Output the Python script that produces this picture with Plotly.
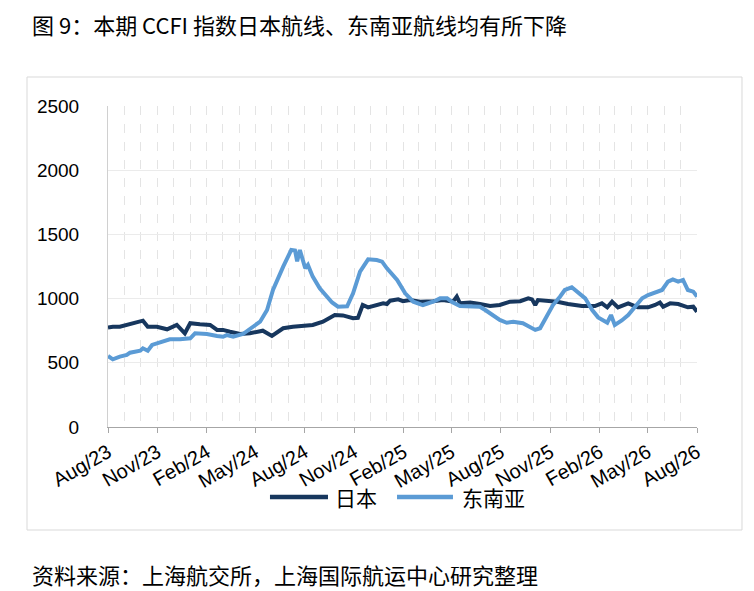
import plotly.graph_objects as go

# CCFI 日本航线
jp_dates = [
    "2023-08-01", "2023-08-10", "2023-08-23", "2023-09-05", "2023-09-17", "2023-10-05",
    "2023-10-14", "2023-10-31", "2023-11-19", "2023-12-07", "2023-12-22", "2024-01-01",
    "2024-01-19", "2024-02-07", "2024-02-20", "2024-03-02", "2024-03-15", "2024-04-03",
    "2024-04-21", "2024-05-06", "2024-05-15", "2024-06-01", "2024-06-22", "2024-07-10",
    "2024-07-29", "2024-08-16", "2024-09-04", "2024-09-26", "2024-10-11", "2024-10-30",
    "2024-11-08", "2024-11-17", "2024-11-27", "2024-12-13", "2024-12-25", "2025-01-01",
    "2025-01-07", "2025-01-22", "2025-01-31", "2025-02-13", "2025-03-04", "2025-03-28",
    "2025-04-15", "2025-05-04", "2025-05-11", "2025-05-17", "2025-06-05", "2025-06-23",
    "2025-07-12", "2025-07-30", "2025-08-18", "2025-09-06", "2025-09-21", "2025-09-28",
    "2025-10-04", "2025-10-09", "2025-10-26", "2025-11-14", "2025-12-04", "2025-12-30",
    "2026-01-23", "2026-02-05", "2026-02-15", "2026-02-24", "2026-03-07", "2026-03-26",
    "2026-04-13", "2026-05-02", "2026-05-15", "2026-05-24", "2026-05-30", "2026-06-12",
    "2026-06-27", "2026-07-15", "2026-07-25", "2026-08-01",
]
jp_values = [
    775, 781, 781, 795, 808, 828,
    781, 781, 761, 795, 730, 808,
    800, 795, 756, 756, 742, 724,
    730, 742, 750, 709, 769, 781,
    786, 795, 820, 872, 869, 847,
    850, 950, 932, 950, 963, 958,
    984, 994, 980, 989, 976, 980,
    989, 976, 1015, 963, 969, 958,
    942, 950, 976, 980, 1002, 994,
    950, 989, 984, 976, 958, 942,
    942, 963, 932, 976, 932, 963,
    932, 932, 950, 969, 937, 963,
    958, 932, 937, 898,
]

# CCFI 东南亚航线
sea_dates = [
    "2023-08-01", "2023-08-10", "2023-08-23", "2023-09-05", "2023-09-11", "2023-09-30",
    "2023-10-05", "2023-10-14", "2023-10-22", "2023-11-02", "2023-11-11", "2023-11-24",
    "2023-12-13", "2024-01-01", "2024-01-10", "2024-02-01", "2024-02-20", "2024-03-02",
    "2024-03-09", "2024-03-21", "2024-04-08", "2024-04-21", "2024-05-06", "2024-05-10",
    "2024-05-23", "2024-06-03", "2024-06-22", "2024-07-07", "2024-07-14", "2024-07-18",
    "2024-07-23", "2024-08-02", "2024-08-07", "2024-08-16", "2024-08-29", "2024-09-10",
    "2024-09-21", "2024-10-02", "2024-10-19", "2024-10-30", "2024-11-12", "2024-11-27",
    "2024-12-13", "2024-12-23", "2025-01-01", "2025-01-20", "2025-02-04", "2025-02-19",
    "2025-03-09", "2025-03-28", "2025-04-10", "2025-04-23", "2025-05-04", "2025-05-17",
    "2025-05-30", "2025-06-23", "2025-07-03", "2025-07-17", "2025-07-30", "2025-08-12",
    "2025-08-24", "2025-09-11", "2025-09-24", "2025-10-04", "2025-10-13", "2025-10-26",
    "2025-11-06", "2025-11-19", "2025-11-28", "2025-12-11", "2025-12-23", "2026-01-05",
    "2026-01-18", "2026-01-29", "2026-02-15", "2026-02-22", "2026-03-01", "2026-03-14",
    "2026-03-26", "2026-04-08", "2026-04-21", "2026-05-02", "2026-05-15", "2026-05-28",
    "2026-06-08", "2026-06-17", "2026-06-27", "2026-07-06", "2026-07-15", "2026-07-25",
    "2026-08-01",
]
sea_values = [
    553, 527, 548, 561, 579, 594,
    613, 594, 639, 652, 670, 683,
    683, 691, 730, 724, 709, 703,
    716, 703, 724, 761, 800, 820,
    911, 1067, 1249, 1379, 1375, 1290,
    1379, 1236, 1262, 1171, 1080, 1028,
    970, 937, 940, 1041, 1210, 1306,
    1300, 1288, 1236, 1145, 1041, 976,
    950, 976, 1002, 1002, 969, 942,
    942, 937, 911, 872, 834, 812,
    820, 808, 781, 756, 769, 860,
    950, 1015, 1067, 1088, 1046, 1002,
    911, 854, 812, 872, 795, 830,
    872, 937, 1002, 1028, 1046, 1067,
    1132, 1150, 1132, 1145, 1067, 1054,
    1015,
]

series_names = ["日本", "东南亚"]
series_colors = ["#17375E", "#5B9BD5"]

title_text = "图 9：本期 CCFI 指数日本航线、东南亚航线均有所下降"
source_text = "资料来源：上海航交所，上海国际航运中心研究整理"

CJK = "Noto Sans CJK SC"
LATIN = "Liberation Sans, Arial"

fig = go.Figure()
for name, color, xs, ys in zip(series_names, series_colors,
                               [jp_dates, sea_dates], [jp_values, sea_values]):
    fig.add_trace(go.Scatter(x=xs, y=ys, name=name, mode="lines",
                             line=dict(color=color, width=4), showlegend=False))

# page body has an 8px margin, so shift everything up/left by 8px
fig.update_layout(
    width=746, height=583, autosize=False,
    margin=dict(l=100, r=57, t=98, b=164),
    paper_bgcolor="white", plot_bgcolor="white",
)

fig.update_xaxes(
    type="date", range=["2023-08-01", "2026-08-01"],
    tick0="2023-08-01", dtick="M3", tickformat="%b/%y", tickangle=-30,
    tickfont=dict(family=LATIN, size=20, color="#000000"),
    ticks="outside", ticklen=5, tickcolor="#a6a6a6",
    showline=True, linecolor="#a6a6a6", linewidth=1,
    showgrid=True, gridcolor="#e4e4e4", griddash="dash", gridwidth=1,
    minor=dict(dtick="M1", tick0="2023-08-01", showgrid=True, gridcolor="#e4e4e4",
               griddash="dash", ticks=""),
    zeroline=False,
)
fig.update_yaxes(
    range=[0, 2500], dtick=500,
    tickfont=dict(family=LATIN, size=19, color="#000000"),
    showline=True, linecolor="#d0d0d0", linewidth=1,
    showgrid=True, gridcolor="#ebebeb", zeroline=False,
    ticks="", ticklabelstandoff=24,
)

# outer frame around the chart
fig.add_shape(type="rect", xref="paper", yref="paper",
              x0=-0.1375, x1=1.0764, y0=-0.3209, y1=1.0903,
              line=dict(color="#d9d9d9", width=1), fillcolor="rgba(0,0,0,0)")

# legend drawn by hand so the line samples match the original length
legend_x = [(0.2750, 0.3735, 0.3820), (0.4907, 0.5857, 0.5976)]
for name, color, (x0, x1, xt) in zip(series_names, series_colors, legend_x):
    fig.add_shape(type="line", xref="paper", yref="paper",
                  x0=x0, x1=x1, y0=-0.2181, y1=-0.2181,
                  line=dict(color=color, width=4.5))
    fig.add_annotation(text=name, xref="paper", yref="paper",
                       x=xt, y=-0.2181, xanchor="left", yanchor="middle",
                       showarrow=False, font=dict(family=CJK, size=21, color="#000000"))

fig.add_annotation(text=title_text, xref="paper", yref="paper",
                   x=-0.1324, y=1.256, xanchor="left", yanchor="middle",
                   showarrow=False, font=dict(family=CJK, size=22, color="#000000"))
fig.add_annotation(text=source_text, xref="paper", yref="paper",
                   x=-0.1324, y=-0.458, xanchor="left", yanchor="middle",
                   showarrow=False, font=dict(family=CJK, size=22, color="#000000"))

fig.write_html("out.html")
